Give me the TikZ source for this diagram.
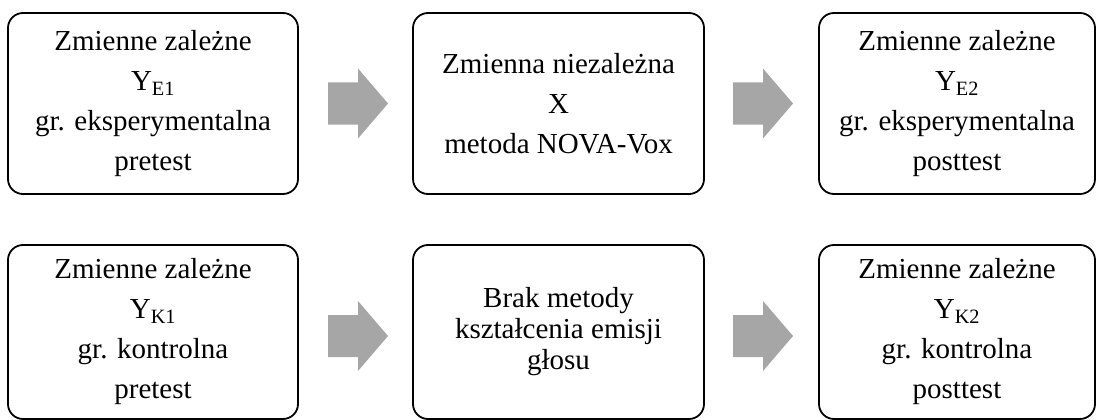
\documentclass[tikz,border=0pt]{standalone}
\usepackage{fontspec}
\setmainfont{Liberation Serif}
\usetikzlibrary{calc}
\definecolor{arrowgray}{HTML}{A6A6A6}
\tikzset{
  stagebox/.style={draw=black, line width=1.8pt, rounded corners=15pt,
    align=center, inner sep=0pt, font=\fontsize{29}{40}\selectfont},
  blockarrow/.pic={\fill[arrowgray] (-30,-21) -- (0,-21) -- (0,-35) -- (30,0)
    -- (0,35) -- (0,21) -- (-30,21) -- cycle;}
}
\begin{document}
\begin{tikzpicture}[x=1pt,y=-1pt]
\useasboundingbox (0,0) rectangle (1096,420);
% experimental group
\node[stagebox, minimum width=290pt, minimum height=181pt] (e1) at (153,103.5)
  {Zmienne zależne\\Y\textsubscript{E1}\\gr. eksperymentalna\\pretest};
\node[stagebox, minimum width=291pt, minimum height=181pt] (x) at (558.5,103.5)
  {Zmienna niezależna\\X\\metoda NOVA-Vox};
\node[stagebox, minimum width=276pt, minimum height=181pt] (e2) at (957,103.5)
  {Zmienne zależne\\Y\textsubscript{E2}\\gr. eksperymentalna\\posttest};
% control group
\node[stagebox, minimum width=290pt, minimum height=174pt] (k1) at (153,332)
  {Zmienne zależne\\Y\textsubscript{K1}\\gr. kontrolna\\pretest};
\node[stagebox, minimum width=291pt, minimum height=174pt,
  font=\fontsize{29}{31}\selectfont] (none) at (558.5,332)
  {Brak metody\\kształcenia emisji\\głosu};
\node[stagebox, minimum width=276pt, minimum height=174pt] (k2) at (957,332)
  {Zmienne zależne\\Y\textsubscript{K2}\\gr. kontrolna\\posttest};
% arrows between stages
\coordinate (a1) at ($(e1.east)!0.5!(x.west)+(2.5,0)$);
\coordinate (a2) at ($(x.east)!0.5!(e2.west)+(1.5,0)$);
\coordinate (a3) at ($(k1.east)!0.5!(none.west)+(2.5,4)$);
\coordinate (a4) at ($(none.east)!0.5!(k2.west)+(1.5,4)$);
\pic at (a1) {blockarrow};
\pic at (a2) {blockarrow};
\pic at (a3) {blockarrow};
\pic at (a4) {blockarrow};
\end{tikzpicture}
\end{document}
